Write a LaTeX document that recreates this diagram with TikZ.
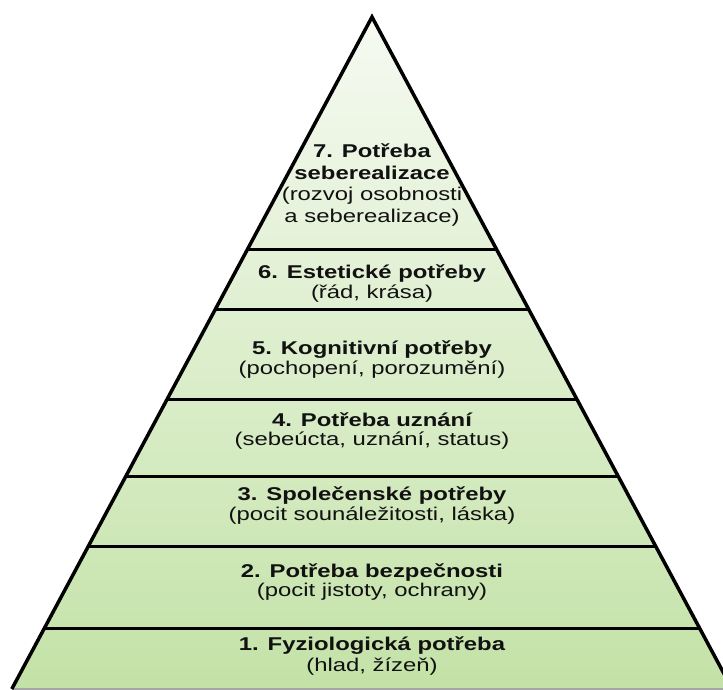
\documentclass[tikz,border=0pt]{standalone}
\usepackage{fontspec}
\newfontfamily\pyr[FakeStretch=1.29]{Liberation Sans}
\definecolor{topg}{HTML}{F6FAF2}
\definecolor{botg}{HTML}{C3E2A7}
\definecolor{ink}{HTML}{111111}
\begin{document}
\begin{tikzpicture}[x=1pt,y=-1pt,
  ttl/.style={font=\pyr\bfseries\fontsize{18.5}{20}\selectfont, text=ink, inner sep=0pt, anchor=base},
  sub/.style={font=\pyr\fontsize{18.5}{20}\selectfont, text=ink, inner sep=0pt, anchor=base},
  edge/.style={line width=3.5pt, black, line join=miter},
  tier/.style={line width=3pt, black}]
\useasboundingbox (0,0) rectangle (723,689);
\clip (0,0) rectangle (723,689);
\coordinate (apex) at (372,17);
\coordinate (bl) at (11.8,689);
\coordinate (br) at (732.2,689);
\shade[top color=topg, bottom color=botg] (apex) -- (bl) -- (br) -- cycle;
% tier lines
\coordinate (l1) at (247.6,249); \coordinate (r1) at (496.4,249);
\coordinate (l2) at (215.5,309); \coordinate (r2) at (528.5,309);
\coordinate (l3) at (167.2,399); \coordinate (r3) at (576.8,399);
\coordinate (l4) at (126.0,476); \coordinate (r4) at (618.0,476);
\coordinate (l5) at (88.5,546);  \coordinate (r5) at (655.5,546);
\coordinate (l6) at (44.5,628);  \coordinate (r6) at (699.5,628);
\foreach \i in {1,...,6} { \draw[tier] (l\i) -- (r\i); }
\draw[gray!70, line width=1.5pt] (bl) -- (br);
\draw[edge] (bl) -- (apex) -- (br);
% texts
\node[ttl] (t7a) at (372,157) {7. Potřeba};
\node[ttl] (t7b) at (372,179) {seberealizace};
\node[sub] (s7a) at (372,200.5) {(rozvoj osobnosti};
\node[sub] (s7b) at (372,222) {a seberealizace)};
\node[ttl] (t6) at (372,278) {6. Estetické potřeby};
\node[sub] (s6) at (372,298) {(řád, krása)};
\node[ttl] (t5) at (372,354) {5. Kognitivní potřeby};
\node[sub] (s5) at (372,374) {(pochopení, porozumění)};
\node[ttl] (t4) at (372,426) {4. Potřeba uznání};
\node[sub] (s4) at (372,445) {(sebeúcta, uznání, status)};
\node[ttl] (t3) at (372,500) {3. Společenské potřeby};
\node[sub] (s3) at (372,520) {(pocit sounáležitosti, láska)};
\node[ttl] (t2) at (372,577) {2. Potřeba bezpečnosti};
\node[sub] (s2) at (372,596) {(pocit jistoty, ochrany)};
\node[ttl] (t1) at (372,650) {1. Fyziologická potřeba};
\node[sub] (s1) at (372,671) {(hlad, žízeň)};
\end{tikzpicture}
\end{document}
